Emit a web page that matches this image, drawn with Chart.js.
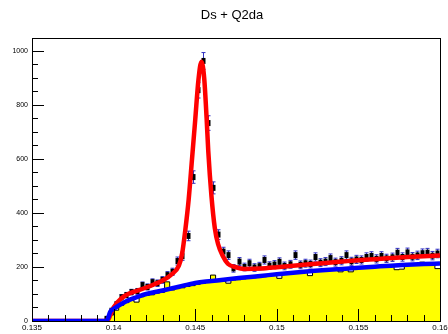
<!DOCTYPE html>
<html>
<head>
<meta charset="utf-8">
<script src="https://cdn.jsdelivr.net/npm/chart.js@4.4.0/dist/chart.umd.min.js"></script>
<style>
  html, body { margin: 0; padding: 0; background: #fff; }
  canvas { display: block; }
</style>
</head>
<body>
<canvas id="c" width="448" height="334"></canvas>
<script>
// histogram binning (80 bins over the axis range)
const xMin = 0.135, xMax = 0.16, binWidth = 0.0003125;
const yMax = 1048;

// data points (black markers)
const counts = [
  0, 0, 0, 0, 0, 0, 0, 0, 0, 0, 0, 0, 0, 0,
  8, 38, 62, 88, 96, 107, 110, 133, 126, 144, 140, 152, 170, 182,
  222, 240, 315, 533, 855, 963, 733, 493, 320, 257, 244, 195,
  220, 200, 214, 198, 203, 226, 205, 209, 219, 204,
  210, 244, 208, 214, 211, 237, 216, 220, 233, 218,
  223, 244, 221, 228, 226, 237, 241, 230, 241, 232,
  236, 253, 237, 254, 238, 243, 251, 253, 242, 250
];

// yellow filled histogram
const mcCounts = [
  0, 0, 0, 0, 0, 0, 0, 0, 0, 0, 0, 0, 0, 0,
  2, 22, 40, 58, 68, 77, 70, 90, 95, 97, 103, 106, 145, 115,
  120, 123, 128, 131, 136, 139, 143, 170, 146, 148, 140, 152,
  153, 156, 158, 160, 161, 164, 166, 170, 158, 174,
  176, 177, 179, 181, 168, 184, 186, 187, 189, 190,
  182, 192, 182, 195, 196, 198, 199, 200, 201, 202,
  203, 190, 192, 206, 207, 210, 218, 210, 211, 194
];

// total fit (red)
const fitX = [0.135, 0.13957, 0.1400, 0.1405, 0.1410, 0.1415, 0.1420, 0.1425, 0.1430, 0.1435,
  0.1440, 0.1442, 0.1444, 0.1446, 0.1448, 0.1450, 0.1452, 0.14538, 0.14555, 0.1457,
  0.1458, 0.1460, 0.1462, 0.1464, 0.1467, 0.1470, 0.1475, 0.1480, 0.1490, 0.1500,
  0.1510, 0.1520, 0.1530, 0.1540, 0.1550, 0.1560, 0.1570, 0.1580, 0.1590, 0.1600];
const fitY = [0, 0, 50, 85, 103, 113, 124, 136, 150, 170,
  205, 250, 340, 450, 596, 744, 893, 960, 900, 750,
  630, 460, 345, 285, 240, 212, 199, 193, 194, 199,
  205, 210, 215, 220, 225, 229, 233, 237, 240, 243];

// background fit (blue)
const bkgX = [0.135, 0.13957, 0.1398, 0.1400, 0.1405, 0.1410, 0.1415, 0.1420, 0.1430, 0.1440,
  0.1450, 0.1460, 0.1470, 0.1480, 0.1490, 0.1500, 0.1510, 0.1520, 0.1530, 0.1540,
  0.1550, 0.1560, 0.1570, 0.1580, 0.1590, 0.1600];
const bkgY = [0, 0, 35, 45, 64, 79, 90, 100, 113, 127,
  141, 148, 155, 161, 167, 173, 179, 184, 189, 193,
  197, 201, 205, 208, 211, 213];

const xTicks = [0.135, 0.14, 0.145, 0.15, 0.155, 0.16];
const xTickLabels = ['0.135', '0.14', '0.145', '0.15', '0.155', '0.16'];
const yTicks = [0, 200, 400, 600, 800, 1000];
const title = 'Ds + Q2da';

const histPts = mcCounts.map((v, i) => ({ x: xMin + i * binWidth, y: v }));
histPts.push({ x: xMax, y: mcCounts[mcCounts.length - 1] });
const dataPts = counts.map((v, i) => ({ x: xMin + (i + 0.5) * binWidth, y: v }));
const fitPts = fitX.map((x, i) => ({ x, y: fitY[i] }));
const bkgPts = bkgX.map((x, i) => ({ x, y: bkgY[i] }));

const rootStyle = {
  id: 'rootStyle',
  beforeDatasetDraw(chart, args) {
    if (args.index !== 1) return;
    const { ctx, scales: { x, y } } = chart;
    const a = chart.chartArea;
    ctx.save();
    ctx.beginPath();
    ctx.rect(a.left, a.top, a.right - a.left, a.bottom - a.top);
    ctx.clip();
    dataPts.forEach(p => {
      if (p.y <= 0) return;
      const err = Math.sqrt(p.y);
      const px = Math.round(x.getPixelForValue(p.x)) + 0.5;
      const y1 = y.getPixelForValue(p.y + err), y2 = y.getPixelForValue(p.y - err);
      ctx.strokeStyle = '#3030c0';
      ctx.lineWidth = 1;
      ctx.beginPath();
      ctx.moveTo(px, y1); ctx.lineTo(px, y2);
      ctx.moveTo(px - 2, y1); ctx.lineTo(px + 2, y1);
      ctx.moveTo(px - 2, y2); ctx.lineTo(px + 2, y2);
      ctx.stroke();
      const py = y.getPixelForValue(p.y);
      ctx.fillStyle = '#000';
      ctx.fillRect(px - 2, py - 3, 4, 6);
    });
    ctx.restore();
  },
  afterDraw(chart) {
    const { ctx, scales: { x, y } } = chart;
    const a = chart.chartArea;
    ctx.save();
    ctx.strokeStyle = '#000';
    ctx.lineWidth = 1;
    ctx.strokeRect(Math.round(a.left) + 0.5, Math.round(a.top) + 0.5,
      Math.round(a.right - a.left), Math.round(a.bottom - a.top));

    ctx.beginPath();
    // y ticks, major every 200, minor every 50
    for (let v = 0; v <= 1000; v += 50) {
      const py = Math.round(y.getPixelForValue(v)) + 0.5;
      const len = v % 200 === 0 ? 12 : 6;
      ctx.moveTo(a.left, py); ctx.lineTo(a.left + len, py);
    }
    // x ticks, major every 0.005, minor every 0.001
    for (let i = 0; i <= 25; i++) {
      const v = xMin + i * 0.001;
      const px = Math.round(x.getPixelForValue(v)) + 0.5;
      const len = i % 5 === 0 ? 12 : 6;
      ctx.moveTo(px, a.bottom); ctx.lineTo(px, a.bottom - len);
    }
    ctx.stroke();

    ctx.fillStyle = '#000';
    ctx.font = '7px "Liberation Sans", Arial, sans-serif';
    ctx.textAlign = 'right';
    ctx.textBaseline = 'middle';
    yTicks.forEach(v => ctx.fillText(String(v), a.left - 4, y.getPixelForValue(v)));

    ctx.font = '8px "Liberation Sans", Arial, sans-serif';
    ctx.textAlign = 'center';
    ctx.textBaseline = 'top';
    xTicks.forEach((v, i) => ctx.fillText(xTickLabels[i], x.getPixelForValue(v), a.bottom + 3));

    ctx.font = '13px "Liberation Sans", Arial, sans-serif';
    ctx.textBaseline = 'middle';
    ctx.fillText(title, 232, 15);
    ctx.restore();
  }
};

new Chart(document.getElementById('c'), {
  type: 'line',
  data: {
    datasets: [
      {
        data: histPts, stepped: 'before', fill: 'origin',
        backgroundColor: '#ffff00', borderColor: '#000', borderWidth: 1,
        pointRadius: 0, order: 4
      },
      {
        data: dataPts, showLine: false, pointRadius: 0, order: 3
      },
      {
        data: fitPts, borderColor: '#ff0000', borderWidth: 4.5, fill: false,
        cubicInterpolationMode: 'monotone', pointRadius: 0, order: 2
      },
      {
        data: bkgPts, borderColor: '#0000ff', borderWidth: 4.5, fill: false,
        cubicInterpolationMode: 'monotone', pointRadius: 0, order: 1
      }
    ]
  },
  options: {
    responsive: false,
    animation: false,
    events: [],
    layout: { padding: { left: 32, right: 8, top: 38, bottom: 13 } },
    plugins: { legend: { display: false }, tooltip: { enabled: false }, title: { display: false } },
    scales: {
      x: { type: 'linear', min: xMin, max: xMax, display: false },
      y: { type: 'linear', min: 0, max: yMax, display: false }
    }
  },
  plugins: [rootStyle]
});
</script>
</body>
</html>
